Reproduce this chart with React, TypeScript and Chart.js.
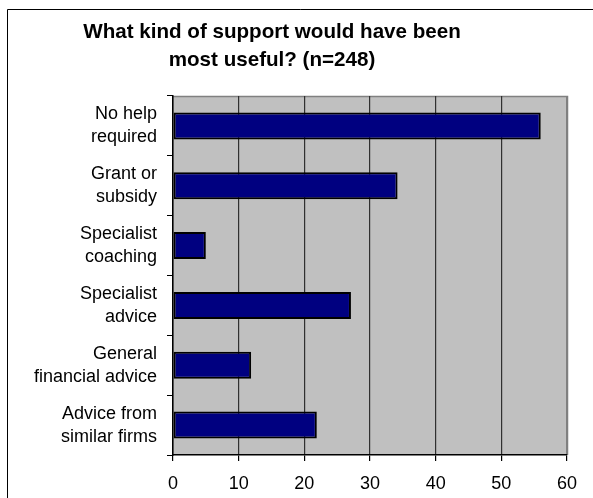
import React, { useEffect, useRef } from "react";
import { Chart, registerables } from "chart.js";

Chart.register(...registerables);

const titleLines = ["What kind of support would have been", "most useful? (n=248)"];
const categories: string[][] = [
  ["No help", "required"],
  ["Grant or", "subsidy"],
  ["Specialist", "coaching"],
  ["Specialist", "advice"],
  ["General", "financial advice"],
  ["Advice from", "similar firms"],
];
const values = [56, 34.2, 5, 27.1, 11.9, 21.9];
const xMin = 0;
const xMax = 60;
const xStep = 10;

const FONT = "'Liberation Sans', Arial, sans-serif";

const framePlugin = {
  id: "frame",
  beforeDraw(chart: any) {
    const { ctx, chartArea } = chart;
    ctx.save();
    ctx.fillStyle = "#ffffff";
    ctx.fillRect(0, 0, chart.width, chart.height);
    // outer border
    ctx.strokeStyle = "#000000";
    ctx.lineWidth = 1;
    ctx.beginPath();
    ctx.moveTo(7.5, chart.height + 2);
    ctx.lineTo(7.5, 9.5);
    ctx.lineTo(chart.width + 2, 9.5);
    ctx.stroke();
    // plot background
    ctx.fillStyle = "#C0C0C0";
    ctx.fillRect(chartArea.left, chartArea.top, chartArea.right - chartArea.left, chartArea.bottom - chartArea.top);
    ctx.strokeStyle = "#808080";
    ctx.lineWidth = 1.5;
    ctx.beginPath();
    ctx.moveTo(chartArea.left, chartArea.top + 0.5);
    ctx.lineTo(chartArea.right + 0.5, chartArea.top + 0.5);
    ctx.lineTo(chartArea.right + 0.5, chartArea.bottom);
    ctx.stroke();
    // title
    ctx.fillStyle = "#000000";
    ctx.font = `bold 20.6px ${FONT}`;
    ctx.textAlign = "center";
    ctx.textBaseline = "middle";
    titleLines.forEach((line, i) => {
      ctx.fillText(line, 272, 32 + i * 28);
    });
    ctx.restore();
  },
};

export default function App() {
  const ref = useRef<HTMLCanvasElement | null>(null);
  useEffect(() => {
    document.body.style.margin = "0";
    const canvas = ref.current!;
    const chart = new Chart(canvas, {
      type: "bar",
      data: {
        labels: categories,
        datasets: [
          {
            data: values,
            backgroundColor: "#000080",
            borderColor: "#000000",
            borderWidth: 2,
            borderSkipped: false,
            barPercentage: 0.45,
            categoryPercentage: 1,
          },
        ],
      },
      options: {
        indexAxis: "y",
        animation: false,
        responsive: false,
        maintainAspectRatio: false,
        layout: { padding: { left: 0, top: 96, right: 26, bottom: 0 } },
        plugins: {
          legend: { display: false },
          title: { display: false },
          tooltip: { enabled: false },
        },
        scales: {
          x: {
            type: "linear",
            min: xMin,
            max: xMax,
            afterFit(scale: any) {
              scale.height = 43;
            },
            ticks: {
              stepSize: xStep,
              color: "#000000",
              padding: 12,
              font: { family: FONT, size: 18 },
            },
            grid: {
              color: (c: any) => (c.tick && c.tick.value === xMax ? "#808080" : "#303030"),
              lineWidth: 1.2,
              tickLength: 6,
              tickColor: "#000000",
            },
            border: { color: "#000000", width: 1.5 },
          },
          y: {
            type: "category",
            afterFit(scale: any) {
              scale.width = 173;
            },
            ticks: {
              color: "#000000",
              padding: 10,
              font: { family: FONT, size: 18, lineHeight: 1.28 },
            },
            grid: {
              drawOnChartArea: false,
              drawTicks: true,
              tickLength: 6,
              color: "#000000",
              lineWidth: 1,
            },
            border: { color: "#000000", width: 1.5 },
          },
        },
      },
      plugins: [framePlugin],
    });
    return () => chart.destroy();
  }, []);
  return <canvas ref={ref} width={593} height={498} style={{ display: "block" }} />;
}
